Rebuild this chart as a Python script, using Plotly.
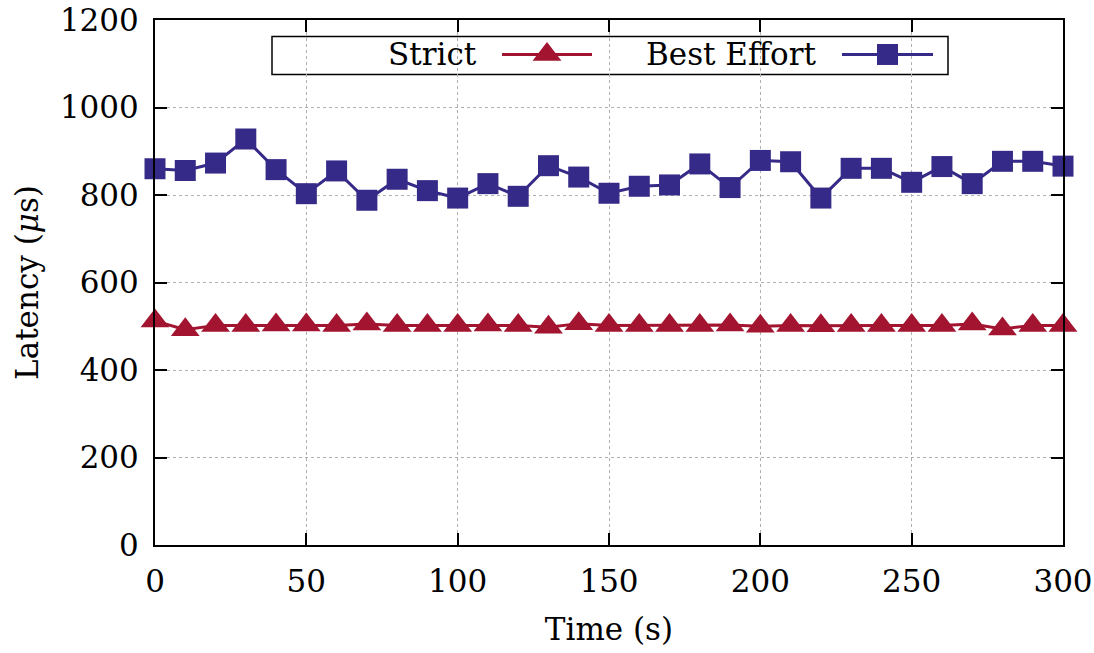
import plotly.graph_objects as go

# Sampling times (s)
time_s = [0, 10, 20, 30, 40, 50, 60, 70, 80, 90, 100, 110, 120, 130, 140, 150,
          160, 170, 180, 190, 200, 210, 220, 230, 240, 250, 260, 270, 280, 290, 300]

# Latency per policy (microseconds)
strict_us = [512, 492, 502, 502, 503, 503, 502, 505, 502, 502, 502, 503, 502, 498, 506, 502,
             502, 502, 502, 503, 500, 502, 501, 502, 502, 502, 502, 505, 494, 502, 502]
best_effort_us = [860, 856, 873, 928, 858, 803, 855, 788, 836, 810, 793, 826, 797, 867, 841, 804,
                  820, 823, 871, 817, 879, 876, 793, 861, 861, 829, 865, 826, 877, 877, 866]

series_names = ["Strict", "Best Effort"]
x_ticks = [0, 50, 100, 150, 200, 250, 300]
y_ticks = [0, 200, 400, 600, 800, 1000, 1200]

RED = "#A2142F"
BLUE = "#352A87"
FONT = "DejaVu Serif"
FS = 31

W, H = 1094, 653
L, R, T, B = 155, 31, 19.5, 108
PW, PH = W - L - R, H - T - B


def px_x(p):
    return (p - L) / PW


def px_y(p):
    return (H - B - p) / PH


fig = go.Figure()

fig.add_trace(go.Scatter(
    x=time_s, y=strict_us, name=series_names[0], mode="lines+markers",
    line=dict(color=RED, width=3),
    marker=dict(symbol="triangle-up", size=25, color=RED, opacity=1),
    cliponaxis=False, showlegend=False))

fig.add_trace(go.Scatter(
    x=time_s, y=best_effort_us, name=series_names[1], mode="lines+markers",
    line=dict(color=BLUE, width=3),
    marker=dict(symbol="square", size=21, color=BLUE, opacity=1),
    cliponaxis=False, showlegend=False))

# Key box drawn inside the plot, text before sample
box = dict(x0=px_x(272), x1=px_x(948), y0=px_y(74), y1=px_y(36))
fig.add_shape(type="rect", xref="paper", yref="paper", **box,
              line=dict(color="black", width=1.5), fillcolor="white", layer="between")

key_y = px_y(54)
samples = [
    (series_names[0], 479, 502, 592, "triangle-up", 25, RED),
    (series_names[1], 818, 842, 933, "square", 21, BLUE),
]
for name, text_right, s0, s1, sym, size, col in samples:
    fig.add_annotation(x=px_x(text_right), y=key_y, xref="paper", yref="paper",
                       text=name, showarrow=False, xanchor="right", yanchor="middle",
                       font=dict(family=FONT, size=FS, color="black"))
    fig.add_trace(go.Scatter(
        x=[px_x(s0), px_x(s1)], y=[key_y] * 2,
        xaxis="x2", yaxis="y2", mode="lines",
        line=dict(color=col, width=3),
        cliponaxis=False, showlegend=False, hoverinfo="skip"))
    fig.add_trace(go.Scatter(
        x=[px_x((s0 + s1) / 2)], y=[key_y],
        xaxis="x2", yaxis="y2", mode="markers",
        marker=dict(symbol=sym, size=size, color=col, opacity=1),
        cliponaxis=False, showlegend=False, hoverinfo="skip"))

axis_common = dict(
    showline=True, linecolor="black", linewidth=2, mirror="ticks",
    ticks="inside", ticklen=12, tickwidth=1.5, tickcolor="black",
    showgrid=True, gridcolor="#b0b0b0", griddash="dot", gridwidth=1,
    zeroline=False, tickfont=dict(family=FONT, size=FS, color="black"),
    ticklabelstandoff=8, automargin=False,
)

fig.update_layout(
    width=W, height=H,
    margin=dict(l=L, r=R, t=T, b=B, autoexpand=False),
    paper_bgcolor="white", plot_bgcolor="white",
    font=dict(family=FONT, size=FS, color="black"),
    xaxis=dict(range=[0, 300], tickvals=x_ticks, **axis_common,
               title=dict(text="Time (s)", standoff=20,
                          font=dict(family=FONT, size=FS, color="black"))),
    yaxis=dict(range=[0, 1200], tickvals=y_ticks, **axis_common,
               title=dict(text="Latency (<i>μ</i>s)", standoff=12,
                          font=dict(family=FONT, size=FS, color="black"))),
    xaxis2=dict(overlaying="x", range=[0, 1], visible=False),
    yaxis2=dict(overlaying="y", range=[0, 1], visible=False),
    showlegend=False,
)

fig.write_html("out.html")
